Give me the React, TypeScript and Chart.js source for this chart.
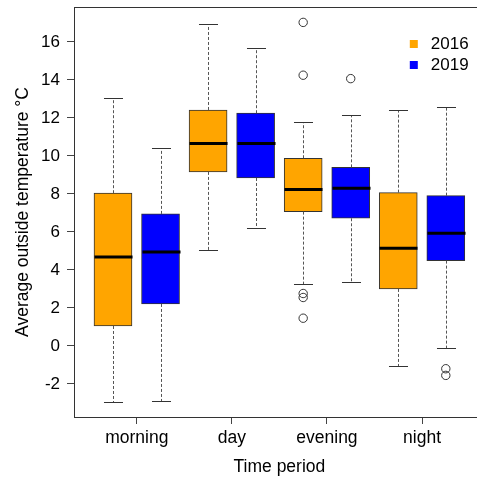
import React, { useEffect, useRef } from 'react';
import { Chart, registerables } from 'chart.js';

Chart.register(...registerables);

const categories = ['morning', 'day', 'evening', 'night'];
const seriesNames = ['2016', '2019'];
const seriesColors = ['#FFA500', '#0000FF'];

const min2016 = [-2.93, 5.05, 3.26, -1.07];
const q1_2016 = [1.05, 9.16, 7.07, 3.0];
const med2016 = [4.68, 10.65, 8.23, 5.14];
const q3_2016 = [8.04, 12.42, 9.88, 8.07];
const max2016 = [13.07, 16.95, 11.79, 12.4];
const out2016 = [[], [], [17.03, 14.25, 2.76, 2.55, 1.46], []];

const min2019 = [-2.89, 6.19, 3.35, -0.09];
const q1_2019 = [2.21, 8.84, 6.72, 4.49];
const med2019 = [4.95, 10.65, 8.3, 5.93];
const q3_2019 = [6.95, 12.25, 9.4, 7.91];
const max2019 = [10.44, 15.7, 12.14, 12.6];
const out2019 = [[], [], [14.07], [-1.2, -1.55]];

const yTicks = [-2, 0, 2, 4, 6, 8, 10, 12, 14, 16];

const FONT = 'Liberation Sans, Arial, sans-serif';

export default function App() {
  const ref = useRef<HTMLCanvasElement>(null);

  useEffect(() => {
    const canvas = ref.current;
    if (!canvas) return;
    const stats = [
      { min: min2016, q1: q1_2016, med: med2016, q3: q3_2016, max: max2016, out: out2016 },
      { min: min2019, q1: q1_2019, med: med2019, q3: q3_2019, max: max2019, out: out2019 },
    ];
    const pos = (ci: number, si: number) => ci * 2 + si + 1;

    const datasets: any[] = stats.map((s, si) => ({
      type: 'bar',
      label: seriesNames[si],
      data: categories.map((_, ci) => ({ x: pos(ci, si), y: [s.q1[ci], s.q3[ci]] })),
      backgroundColor: seriesColors[si],
      borderColor: '#333333',
      borderWidth: 1,
      borderSkipped: false,
      barThickness: 38,
      grouped: false,
    }));
    const outlierData: any[] = [];
    stats.forEach((s, si) =>
      s.out.forEach((arr, ci) => arr.forEach((v) => outlierData.push({ x: pos(ci, si), y: v })))
    );
    datasets.push({
      type: 'scatter',
      label: 'outliers',
      data: outlierData,
      pointStyle: 'circle',
      pointRadius: 4.2,
      borderColor: '#333333',
      backgroundColor: 'rgba(0,0,0,0)',
      borderWidth: 1,
      showLine: false,
    });

    const boxPlugin = {
      id: 'boxParts',
      afterDatasetsDraw(chart: any) {
        const { ctx, chartArea } = chart;
        const x = chart.scales.x;
        const y = chart.scales.y;
        const unit = x.getPixelForValue(1) - x.getPixelForValue(0);
        const half = unit * 0.4;
        const capHalf = unit * 0.2;
        const seg = (x1: number, y1: number, x2: number, y2: number) => {
          ctx.beginPath();
          ctx.moveTo(x1, y1);
          ctx.lineTo(x2, y2);
          ctx.stroke();
        };
        ctx.save();
        stats.forEach((s, si) =>
          categories.forEach((_, ci) => {
            const cx = Math.round(x.getPixelForValue(pos(ci, si))) + 0.5;
            const yMax = Math.round(y.getPixelForValue(s.max[ci])) + 0.5;
            const yMin = Math.round(y.getPixelForValue(s.min[ci])) + 0.5;
            const yQ1 = y.getPixelForValue(s.q1[ci]);
            const yQ3 = y.getPixelForValue(s.q3[ci]);
            const yMed = y.getPixelForValue(s.med[ci]);
            ctx.lineWidth = 1;
            ctx.setLineDash([3, 2]);
            ctx.strokeStyle = '#555555';
            seg(cx, yQ3, cx, yMax);
            seg(cx, yQ1, cx, yMin);
            ctx.setLineDash([]);
            ctx.strokeStyle = '#333333';
            seg(cx - capHalf, yMax, cx + capHalf, yMax);
            seg(cx - capHalf, yMin, cx + capHalf, yMin);
            ctx.lineWidth = 3;
            ctx.strokeStyle = '#000000';
            seg(cx - half, yMed, cx + half, yMed);
          })
        );
        ctx.lineWidth = 1;
        ctx.strokeStyle = '#333333';
        ctx.strokeRect(
          Math.round(chartArea.left) + 0.5,
          Math.round(chartArea.top) + 0.5,
          Math.round(chartArea.width),
          Math.round(chartArea.height)
        );
        // legend
        const lx = chartArea.right - 75;
        const ly = chartArea.top + 33;
        ctx.font = '17px ' + FONT;
        ctx.textBaseline = 'middle';
        ctx.textAlign = 'left';
        seriesNames.forEach((name, i) => {
          const yy = ly + i * 21;
          ctx.fillStyle = seriesColors[i];
          ctx.fillRect(lx, yy, 8, 8);
          ctx.fillStyle = '#000000';
          ctx.fillText(name, lx + 21, yy + 4.5);
        });
        ctx.restore();
      },
    };

    const chart = new Chart(canvas, {
      type: 'bar',
      data: { datasets },
      plugins: [boxPlugin],
      options: {
        animation: false,
        responsive: false,
        events: [],
        layout: { padding: { top: 7, right: 4, left: 0, bottom: 0 } },
        plugins: { legend: { display: false }, tooltip: { enabled: false } },
        scales: {
          x: {
            type: 'linear',
            min: 0.18,
            max: 8.82,
            offset: false,
            afterBuildTicks: (s: any) => {
              s.ticks = categories.map((_, i) => ({ value: 2 * i + 1.5 }));
            },
            afterFit: (s: any) => {
              s.height = 61;
              s.paddingLeft = 0;
              s.paddingRight = 0;
            },
            ticks: {
              autoSkip: false,
              maxRotation: 0,
              minRotation: 0,
              padding: 4,
              color: '#000000',
              font: { size: 17.5, family: FONT },
              callback: (v: any) => categories[Math.round((Number(v) - 1.5) / 2)] ?? '',
            },
            grid: { offset: false, drawOnChartArea: false, drawTicks: true, tickLength: 7, color: '#444444' },
            border: { display: false },
            title: {
              display: true,
              text: 'Time period',
              color: '#000000',
              font: { size: 17.5, family: FONT },
              padding: { top: 1.3, bottom: 0 },
            },
          },
          y: {
            type: 'linear',
            min: -3.74,
            max: 17.84,
            afterBuildTicks: (s: any) => {
              s.ticks = yTicks.map((v) => ({ value: v }));
            },
            afterFit: (s: any) => {
              s.width = 74;
              s.paddingTop = 0;
              s.paddingBottom = 0;
            },
            ticks: {
              padding: 7,
              color: '#000000',
              font: { size: 17, family: FONT },
            },
            grid: { drawOnChartArea: false, drawTicks: true, tickLength: 7, color: '#444444' },
            border: { display: false },
            title: {
              display: true,
              text: 'Average outside temperature °C',
              color: '#000000',
              font: { size: 17.5, family: FONT },
              padding: { top: 12.7, bottom: 0 },
            },
          },
        },
      } as any,
    });
    return () => chart.destroy();
  }, []);

  return (
    <div style={{ position: 'absolute', left: 0, top: 0, width: 477, height: 478, overflow: 'hidden', background: '#fff' }}>
      <canvas ref={ref} width={490} height={478} style={{ display: 'block' }} />
    </div>
  );
}
